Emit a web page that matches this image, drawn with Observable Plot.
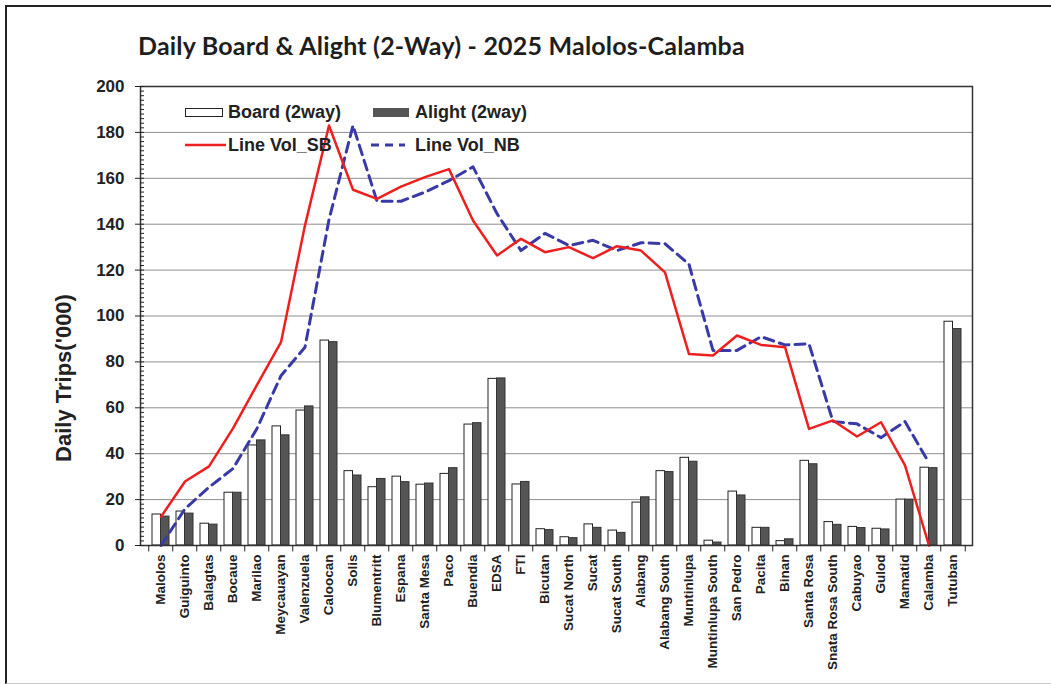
<!DOCTYPE html>
<html>
<head>
<meta charset="utf-8">
<script src="https://cdn.jsdelivr.net/npm/d3@7"></script>
<script src="https://cdn.jsdelivr.net/npm/@observablehq/plot@0.6"></script>
<style>
  html, body { margin: 0; padding: 0; background: #fff; }
  #wrap { position: relative; width: 1051px; height: 684px; overflow: hidden; background: #fff; }
  #outer { position: absolute; left: 5px; top: 5px; width: 1060px; height: 676px;
           border-top: 2px solid #222; border-left: 2px solid #222; border-bottom: 1px solid #c8c8c8; }
  #chart { position: absolute; left: 0; top: 0; }
  #title { position: absolute; left: 138px; top: 30px; font-family: Lato, "Open Sans", sans-serif;
           font-weight: bold; font-size: 25px; letter-spacing: 0.2px; color: #1e1e1e; white-space: nowrap; }
  #ytitle { position: absolute; left: 64px; top: 378px; transform: translate(-50%, -50%) rotate(-90deg);
            font-family: "Liberation Sans", Arial, sans-serif; font-weight: bold; font-size: 22px; color: #222; white-space: nowrap; }
  #legend { position: absolute; left: 0; top: 0; pointer-events: none; }
</style>
</head>
<body>
<div id="wrap">
  <div id="outer"></div>
  <div id="chart"></div>
  <div id="title">Daily Board &amp; Alight (2-Way) - 2025 Malolos-Calamba</div>
  <div id="ytitle">Daily Trips('000)</div>
</div>
<script>
const stations = ["Malolos","Guiguinto","Balagtas","Bocaue","Marilao","Meycauayan","Valenzuela","Caloocan","Solis","Blumentritt","Espana","Santa Mesa","Paco","Buendia","EDSA","FTI","Bicutan","Sucat North","Sucat","Sucat South","Alabang","Alabang South","Muntinlupa","Muntinlupa South","San Pedro","Pacita","Binan","Santa Rosa","Snata Rosa South","Cabuyao","Gulod","Mamatid","Calamba","Tutuban"];
const board  = [13.5,14.8,9.5,23,43.6,51.9,58.8,89.3,32.4,25.4,30,26.5,31.2,52.7,72.6,26.6,7.1,3.6,9.2,6.5,18.7,32.4,38.2,2.1,23.5,7.7,1.9,36.9,10.2,8.1,7.3,20,33.9,97.5];
const alight = [12.6,13.9,9.1,23,45.8,48,60.6,88.6,30.5,29,27.6,27,33.7,53.3,72.8,27.7,6.7,3.2,7.7,5.5,21,32,36.5,1.3,21.8,7.7,2.7,35.4,9,7.6,7,20,33.7,94.3];
const volSB  = [12.5,27.9,34.5,51,70,88.6,139.5,183,155,151,156.4,160.5,164,141.6,126.4,133.6,127.8,130,125.2,130.4,128.5,119,83.4,82.8,91.5,87.4,86.4,50.8,54.5,47.5,53.7,34.9,0,null];
const volNB  = [0,16,25.4,33.5,51,74,86.4,142,183,150,150,154,159,165,144.6,128.5,136,130.7,133,128.5,131.9,131.5,122.5,85,85,91,87.4,87.9,54,53,47,54,36,null];
const yTicks = [0,20,40,60,80,100,120,140,160,180,200];

const rows = stations.map((s, i) => ({station: s, board: board[i], alight: alight[i], sb: volSB[i], nb: volNB[i]}));

const W = 1051, H = 684;
const mL = 140, mR = W - 972, mT = 86, mB = H - 545;
const step = (W - mL - mR) / stations.length;
const bw = 17;
const pInner = 1 - bw / step;
const font = "Liberation Sans, Arial, sans-serif";

const plot = Plot.plot({
  width: W, height: H,
  marginLeft: mL, marginRight: mR, marginTop: mT, marginBottom: mB,
  style: {fontFamily: font, color: "#222", background: "transparent"},
  x: {domain: stations, paddingInner: pInner, paddingOuter: pInner / 2, label: null},
  y: {domain: [0, 200], label: null},
  marks: [
    Plot.gridY(yTicks.filter(d => d > 0 && d < 200), {stroke: "#8f8f8f", strokeOpacity: 1, strokeWidth: 1}),
    Plot.barY(rows, {x: "station", y: "board", fill: "#fff", stroke: "#222", strokeWidth: 1, insetRight: bw / 2}),
    Plot.barY(rows, {x: "station", y: "alight", fill: "#555", stroke: "#333", strokeWidth: 1, insetLeft: bw / 2}),
    Plot.lineY(rows, {x: "station", y: "nb", stroke: "#3a3aa6", strokeWidth: 3, strokeDasharray: "10,6"}),
    Plot.lineY(rows, {x: "station", y: "sb", stroke: "#ee1f1f", strokeWidth: 2.5}),
    Plot.frame({stroke: "#333", strokeWidth: 1.5}),
    Plot.axisY({ticks: yTicks, tickSize: 5, tickPadding: 11, fontSize: 17, fontWeight: "bold", label: null, stroke: "#222"}),
    Plot.axisY({ticks: d3.range(0, 201, 2), tickSize: -4, tickFormat: () => "", label: null, stroke: "#222"}),
    Plot.axisX({tickSize: 0, tickRotate: -90, tickPadding: 9, fontSize: 13.5, fontWeight: "bold", label: null}),
    Plot.ruleX(stations, {x: d => d, y1: 0, y2: -2.8, dx: -step / 2, stroke: "#222"}),
    Plot.ruleX([stations[stations.length - 1]], {x: d => d, y1: 0, y2: -2.8, dx: step / 2, stroke: "#222"})
  ]
});
document.getElementById("chart").appendChild(plot);

// legend overlay
const lg = d3.select("#wrap").append("svg").attr("id", "legend").attr("width", W).attr("height", H);
lg.append("rect").attr("x", 185.5).attr("y", 108.5).attr("width", 37).attr("height", 8).attr("fill", "#fff").attr("stroke", "#222");
lg.append("rect").attr("x", 373).attr("y", 108).attr("width", 36).attr("height", 9).attr("fill", "#555");
lg.append("line").attr("x1", 185).attr("x2", 226).attr("y1", 145).attr("y2", 145).attr("stroke", "#ee1f1f").attr("stroke-width", 2.5);
lg.append("line").attr("x1", 371).attr("x2", 405).attr("y1", 145).attr("y2", 145).attr("stroke", "#3a3aa6").attr("stroke-width", 3).attr("stroke-dasharray", "8,6");
const items = [["Board (2way)", 228, 112], ["Alight (2way)", 415, 112], ["Line Vol_SB", 228, 145], ["Line Vol_NB", 415, 145]];
for (const [t, x, y] of items) {
  lg.append("text").attr("x", x).attr("y", y).attr("dy", "0.35em").attr("font-family", font)
    .attr("font-size", 18).attr("font-weight", "bold").attr("fill", "#222").text(t);
}
</script>
</body>
</html>
